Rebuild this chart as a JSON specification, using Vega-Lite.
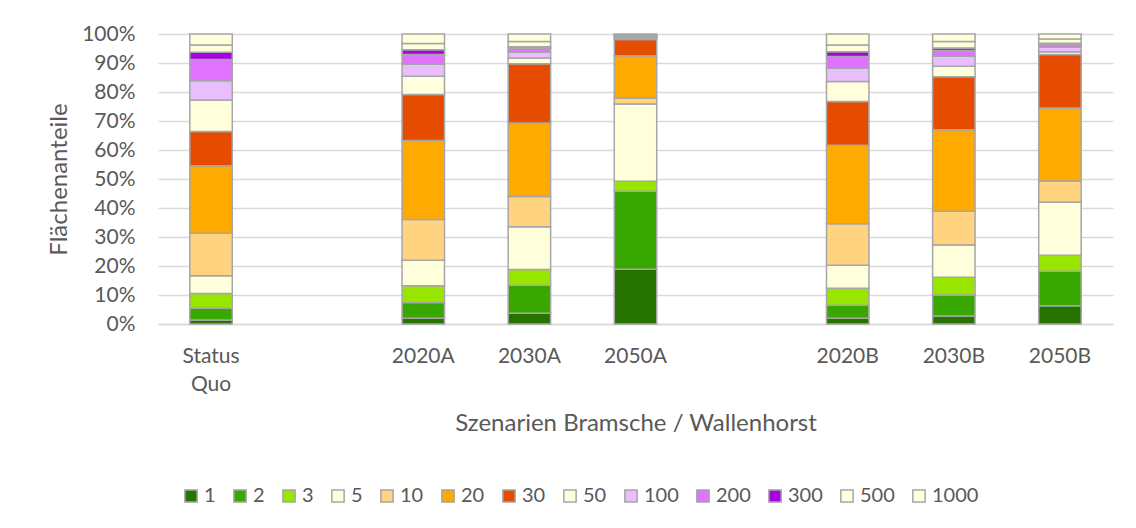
{
  "$schema": "https://vega.github.io/schema/vega-lite/v6.json",
  "width": 955,
  "height": 290,
  "autosize": {"type": "none"},
  "padding": {"left": 158, "top": 34, "right": 23, "bottom": 204},
  "background": "white",
  "data": {
    "values": [
      {"Szenario": "Status Quo", "Klasse": "1", "k": 1, "Anteil": 1.4},
      {"Szenario": "Status Quo", "Klasse": "2", "k": 2, "Anteil": 4.0},
      {"Szenario": "Status Quo", "Klasse": "3", "k": 3, "Anteil": 5.15},
      {"Szenario": "Status Quo", "Klasse": "5", "k": 5, "Anteil": 6.05},
      {"Szenario": "Status Quo", "Klasse": "10", "k": 10, "Anteil": 14.7},
      {"Szenario": "Status Quo", "Klasse": "20", "k": 20, "Anteil": 23.3},
      {"Szenario": "Status Quo", "Klasse": "30", "k": 30, "Anteil": 11.8},
      {"Szenario": "Status Quo", "Klasse": "50", "k": 50, "Anteil": 10.8},
      {"Szenario": "Status Quo", "Klasse": "100", "k": 100, "Anteil": 6.7},
      {"Szenario": "Status Quo", "Klasse": "200", "k": 200, "Anteil": 7.3},
      {"Szenario": "Status Quo", "Klasse": "300", "k": 300, "Anteil": 2.5},
      {"Szenario": "Status Quo", "Klasse": "500", "k": 500, "Anteil": 2.5},
      {"Szenario": "Status Quo", "Klasse": "1000", "k": 1000, "Anteil": 3.8},

      {"Szenario": "2020A", "Klasse": "1", "k": 1, "Anteil": 1.95},
      {"Szenario": "2020A", "Klasse": "2", "k": 2, "Anteil": 5.5},
      {"Szenario": "2020A", "Klasse": "3", "k": 3, "Anteil": 5.75},
      {"Szenario": "2020A", "Klasse": "5", "k": 5, "Anteil": 8.8},
      {"Szenario": "2020A", "Klasse": "10", "k": 10, "Anteil": 14.0},
      {"Szenario": "2020A", "Klasse": "20", "k": 20, "Anteil": 27.3},
      {"Szenario": "2020A", "Klasse": "30", "k": 30, "Anteil": 15.8},
      {"Szenario": "2020A", "Klasse": "50", "k": 50, "Anteil": 6.3},
      {"Szenario": "2020A", "Klasse": "100", "k": 100, "Anteil": 4.2},
      {"Szenario": "2020A", "Klasse": "200", "k": 200, "Anteil": 3.3},
      {"Szenario": "2020A", "Klasse": "300", "k": 300, "Anteil": 1.7},
      {"Szenario": "2020A", "Klasse": "500", "k": 500, "Anteil": 2.1},
      {"Szenario": "2020A", "Klasse": "1000", "k": 1000, "Anteil": 3.3},

      {"Szenario": "2030A", "Klasse": "1", "k": 1, "Anteil": 3.7},
      {"Szenario": "2030A", "Klasse": "2", "k": 2, "Anteil": 9.7},
      {"Szenario": "2030A", "Klasse": "3", "k": 3, "Anteil": 5.4},
      {"Szenario": "2030A", "Klasse": "5", "k": 5, "Anteil": 14.7},
      {"Szenario": "2030A", "Klasse": "10", "k": 10, "Anteil": 10.5},
      {"Szenario": "2030A", "Klasse": "20", "k": 20, "Anteil": 25.3},
      {"Szenario": "2030A", "Klasse": "30", "k": 30, "Anteil": 20.4},
      {"Szenario": "2030A", "Klasse": "50", "k": 50, "Anteil": 2.0},
      {"Szenario": "2030A", "Klasse": "100", "k": 100, "Anteil": 2.0},
      {"Szenario": "2030A", "Klasse": "200", "k": 200, "Anteil": 1.4},
      {"Szenario": "2030A", "Klasse": "300", "k": 300, "Anteil": 0.5},
      {"Szenario": "2030A", "Klasse": "500", "k": 500, "Anteil": 1.8},
      {"Szenario": "2030A", "Klasse": "1000", "k": 1000, "Anteil": 2.6},

      {"Szenario": "2050A", "Klasse": "1", "k": 1, "Anteil": 18.9},
      {"Szenario": "2050A", "Klasse": "2", "k": 2, "Anteil": 26.9},
      {"Szenario": "2050A", "Klasse": "3", "k": 3, "Anteil": 3.4},
      {"Szenario": "2050A", "Klasse": "5", "k": 5, "Anteil": 26.7},
      {"Szenario": "2050A", "Klasse": "10", "k": 10, "Anteil": 2.0},
      {"Szenario": "2050A", "Klasse": "20", "k": 20, "Anteil": 14.6},
      {"Szenario": "2050A", "Klasse": "30", "k": 30, "Anteil": 5.6},
      {"Szenario": "2050A", "Klasse": "50", "k": 50, "Anteil": 0.5},
      {"Szenario": "2050A", "Klasse": "100", "k": 100, "Anteil": 0.3},
      {"Szenario": "2050A", "Klasse": "200", "k": 200, "Anteil": 0.3},
      {"Szenario": "2050A", "Klasse": "300", "k": 300, "Anteil": 0.1},
      {"Szenario": "2050A", "Klasse": "500", "k": 500, "Anteil": 0.4},
      {"Szenario": "2050A", "Klasse": "1000", "k": 1000, "Anteil": 0.3},

      {"Szenario": "2020B", "Klasse": "1", "k": 1, "Anteil": 1.95},
      {"Szenario": "2020B", "Klasse": "2", "k": 2, "Anteil": 4.55},
      {"Szenario": "2020B", "Klasse": "3", "k": 3, "Anteil": 5.8},
      {"Szenario": "2020B", "Klasse": "5", "k": 5, "Anteil": 8.0},
      {"Szenario": "2020B", "Klasse": "10", "k": 10, "Anteil": 14.3},
      {"Szenario": "2020B", "Klasse": "20", "k": 20, "Anteil": 27.0},
      {"Szenario": "2020B", "Klasse": "30", "k": 30, "Anteil": 15.1},
      {"Szenario": "2020B", "Klasse": "50", "k": 50, "Anteil": 6.9},
      {"Szenario": "2020B", "Klasse": "100", "k": 100, "Anteil": 4.6},
      {"Szenario": "2020B", "Klasse": "200", "k": 200, "Anteil": 4.0},
      {"Szenario": "2020B", "Klasse": "300", "k": 300, "Anteil": 1.7},
      {"Szenario": "2020B", "Klasse": "500", "k": 500, "Anteil": 2.3},
      {"Szenario": "2020B", "Klasse": "1000", "k": 1000, "Anteil": 3.8},

      {"Szenario": "2030B", "Klasse": "1", "k": 1, "Anteil": 2.75},
      {"Szenario": "2030B", "Klasse": "2", "k": 2, "Anteil": 7.25},
      {"Szenario": "2030B", "Klasse": "3", "k": 3, "Anteil": 6.1},
      {"Szenario": "2030B", "Klasse": "5", "k": 5, "Anteil": 11.1},
      {"Szenario": "2030B", "Klasse": "10", "k": 10, "Anteil": 11.7},
      {"Szenario": "2030B", "Klasse": "20", "k": 20, "Anteil": 28.1},
      {"Szenario": "2030B", "Klasse": "30", "k": 30, "Anteil": 18.3},
      {"Szenario": "2030B", "Klasse": "50", "k": 50, "Anteil": 3.6},
      {"Szenario": "2030B", "Klasse": "100", "k": 100, "Anteil": 3.4},
      {"Szenario": "2030B", "Klasse": "200", "k": 200, "Anteil": 2.0},
      {"Szenario": "2030B", "Klasse": "300", "k": 300, "Anteil": 0.9},
      {"Szenario": "2030B", "Klasse": "500", "k": 500, "Anteil": 2.2},
      {"Szenario": "2030B", "Klasse": "1000", "k": 1000, "Anteil": 2.6},

      {"Szenario": "2050B", "Klasse": "1", "k": 1, "Anteil": 6.3},
      {"Szenario": "2050B", "Klasse": "2", "k": 2, "Anteil": 11.9},
      {"Szenario": "2050B", "Klasse": "3", "k": 3, "Anteil": 5.5},
      {"Szenario": "2050B", "Klasse": "5", "k": 5, "Anteil": 18.4},
      {"Szenario": "2050B", "Klasse": "10", "k": 10, "Anteil": 7.2},
      {"Szenario": "2050B", "Klasse": "20", "k": 20, "Anteil": 25.2},
      {"Szenario": "2050B", "Klasse": "30", "k": 30, "Anteil": 18.4},
      {"Szenario": "2050B", "Klasse": "50", "k": 50, "Anteil": 1.0},
      {"Szenario": "2050B", "Klasse": "100", "k": 100, "Anteil": 1.5},
      {"Szenario": "2050B", "Klasse": "200", "k": 200, "Anteil": 0.9},
      {"Szenario": "2050B", "Klasse": "300", "k": 300, "Anteil": 0.5},
      {"Szenario": "2050B", "Klasse": "500", "k": 500, "Anteil": 1.5},
      {"Szenario": "2050B", "Klasse": "1000", "k": 1000, "Anteil": 1.7}
    ]
  },
  "mark": {"type": "bar", "stroke": "#a6a6a6", "strokeWidth": 1.5},
  "encoding": {
    "x": {
      "field": "Szenario",
      "type": "nominal",
      "scale": {
        "domain": ["Status Quo", "g1", "2020A", "2030A", "2050A", "g2", "2020B", "2030B", "2050B"],
        "paddingInner": 0.6,
        "paddingOuter": 0.3
      },
      "axis": {
        "title": "Szenarien Bramsche / Wallenhorst",
        "labelAngle": 0,
        "labelExpr": "datum.value == 'Status Quo' ? ['Status', 'Quo'] : (datum.value == 'g1' || datum.value == 'g2' ? '' : datum.value)",
        "labelPadding": 21,
        "labelLineHeight": 28,
        "labelBaseline": "top",
        "ticks": false,
        "tickSize": 0,
        "domainColor": "#d9d9d9",
        "domainWidth": 1.5,
        "titleY": 99,
        "titleBaseline": "middle",
        "titleFontSize": 24
      }
    },
    "y": {
      "field": "Anteil",
      "type": "quantitative",
      "stack": "normalize",
      "scale": {"domain": [0, 1]},
      "axis": {
        "title": "Flächenanteile",
        "format": ".0%",
        "values": [0, 0.1, 0.2, 0.3, 0.4, 0.5, 0.6, 0.7, 0.8, 0.9, 1],
        "domain": false,
        "ticks": false,
        "tickSize": 0,
        "labelPadding": 23,
        "gridColor": "#d9d9d9",
        "gridWidth": 1.5,
        "titleX": -99,
        "titleY": 145,
        "titleAlign": "center",
        "titleBaseline": "middle",
        "titleAngle": 270,
        "titleFontSize": 24
      }
    },
    "color": {
      "field": "Klasse",
      "type": "nominal",
      "scale": {
        "domain": ["1", "2", "3", "5", "10", "20", "30", "50", "100", "200", "300", "500", "1000"],
        "range": ["#267300", "#38a800", "#98e600", "#ffffdc", "#ffd380", "#ffaa00", "#e64c00", "#ffffdc", "#e8beff", "#df73ff", "#a900e6", "#ffffdc", "#ffffdc"]
      },
      "legend": {
        "title": null,
        "orient": "none",
        "legendX": 23,
        "legendY": 452,
        "direction": "horizontal",
        "columns": 13,
        "symbolType": "square",
        "symbolSize": 150,
        "symbolStrokeColor": "#a6a6a6",
        "symbolStrokeWidth": 1.5,
        "labelOffset": 3,
        "columnPadding": 14,
        "labelFontSize": 20,
        "labelColor": "#595959",
        "labelFont": "Lato"
      }
    },
    "order": {"field": "k", "type": "quantitative", "sort": "ascending"}
  },
  "config": {
    "view": {"stroke": null},
    "font": "Lato",
    "axis": {
      "labelFont": "Lato",
      "titleFont": "Lato",
      "labelFontSize": 21,
      "labelColor": "#595959",
      "titleColor": "#595959",
      "titleFontWeight": "normal"
    }
  }
}
